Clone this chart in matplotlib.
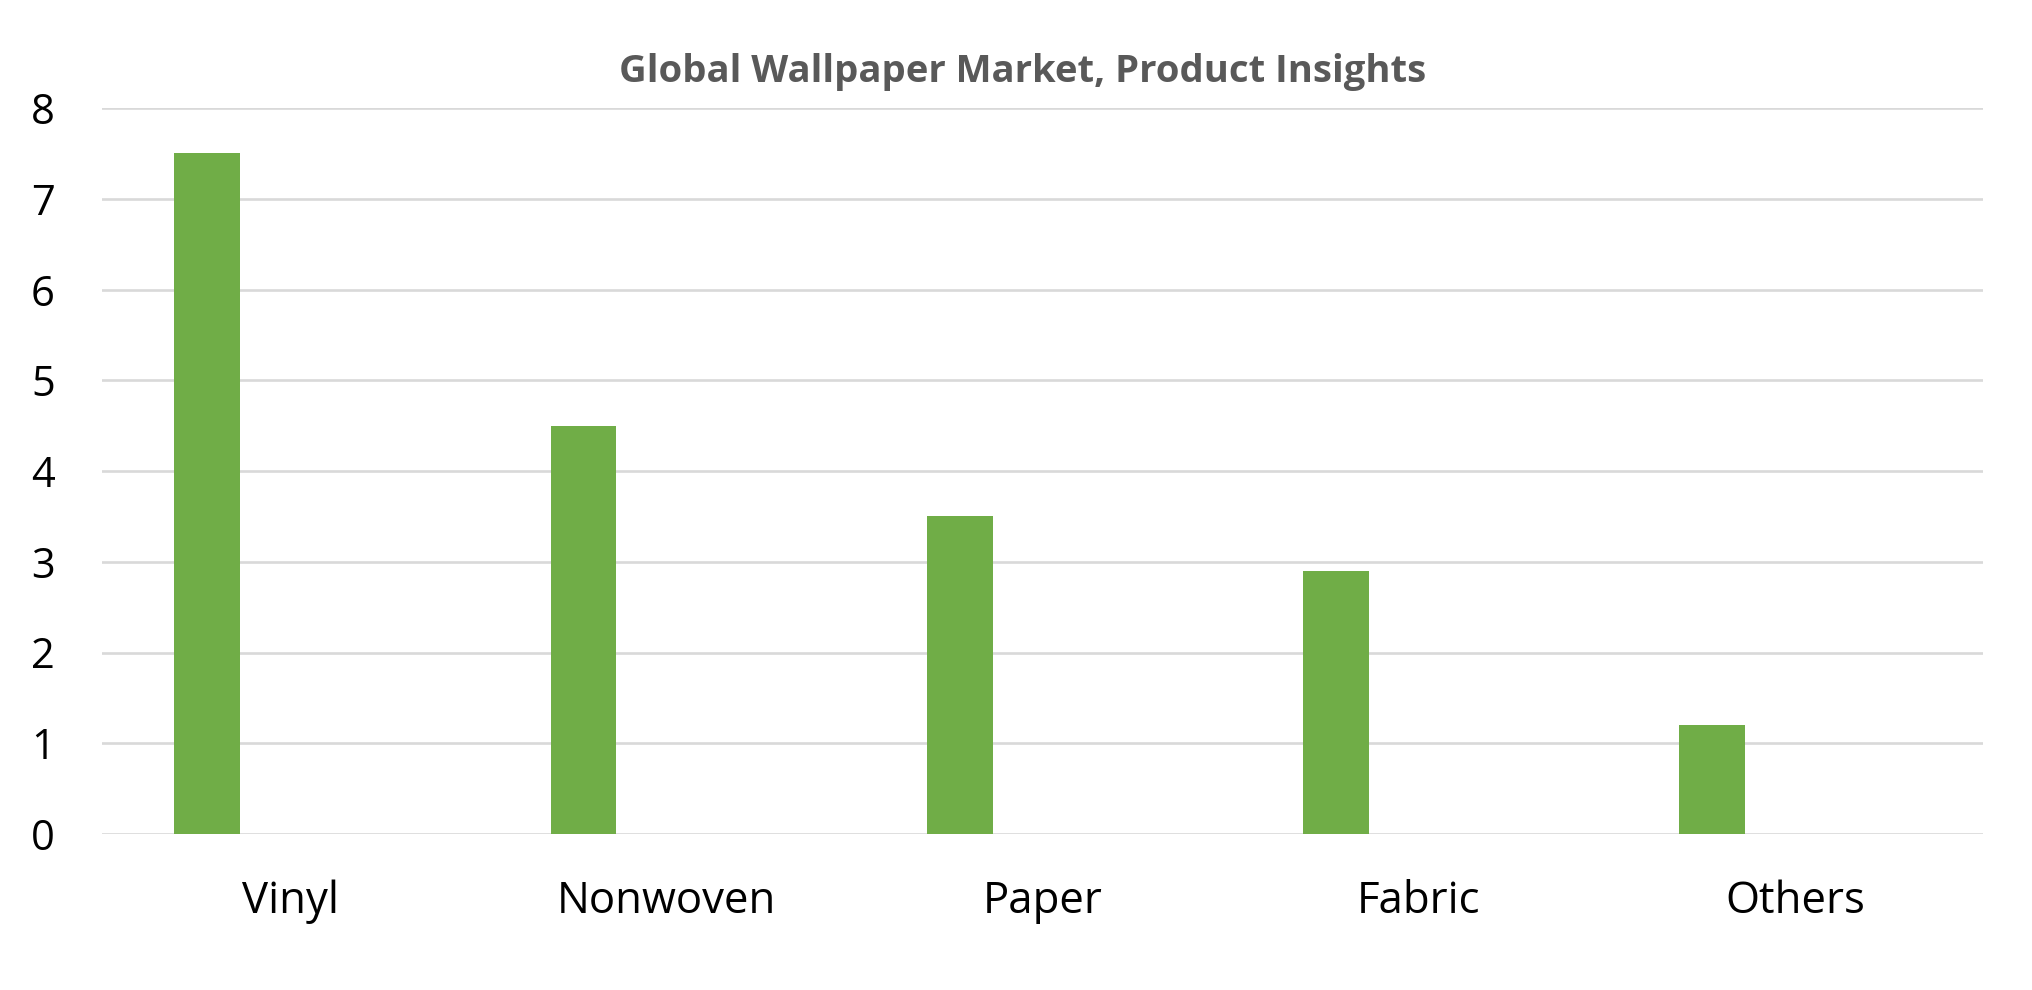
import matplotlib
matplotlib.use("Agg")
import matplotlib.pyplot as plt
import numpy as np

categories = ["Vinyl", "Nonwoven", "Paper", "Fabric", "Others"]
values = [7.5, 4.5, 3.5, 2.9, 1.2]
yticks = [0, 1, 2, 3, 4, 5, 6, 7, 8]
title = "Global Wallpaper Market, Product Insights"

plt.rcParams['font.family'] = ['Open Sans', 'DejaVu Sans']

fig = plt.figure(figsize=(20.33, 9.9), dpi=100)
ax = fig.add_axes([102/2033, 1-834/990, (1983-102)/2033, (834-108)/990])

x = np.arange(len(categories))
ax.bar(x - 0.22, values, width=0.175, color="#70AD47", zorder=3)
ax.set_xlim(-0.5, len(categories) - 0.5)
ax.set_ylim(0, 8)
ax.set_yticks(yticks)
ax.set_yticklabels([str(v) for v in yticks])
ax.set_xticks(x)
ax.set_xticklabels(categories)
ax.yaxis.grid(True, color="#D9D9D9", linewidth=1.9, zorder=0)
ax.set_axisbelow(True)
for s in ax.spines.values():
    s.set_visible(False)
ax.tick_params(axis='y', length=0, labelsize=30, colors="black", pad=34)
ax.tick_params(axis='x', length=0, labelsize=31.5, colors="black", pad=33)

fig.text(1023/2033, 1-72/990, title, ha='center', va='center',
         fontsize=27.5, fontweight='bold', color="#595959")

fig.savefig("out.png", dpi=100, facecolor="white")
